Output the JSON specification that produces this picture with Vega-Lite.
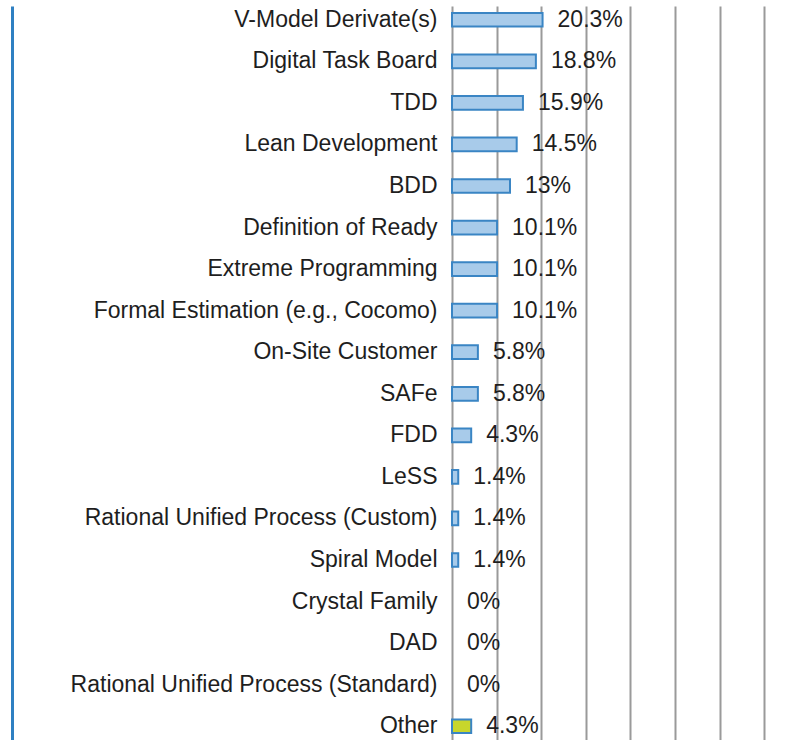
{
  "$schema": "https://vega.github.io/schema/vega-lite/v6.json",
  "width": 348,
  "height": 734,
  "padding": {"left": 12, "top": 6, "right": 0, "bottom": 0},
  "autosize": {"type": "pad"},
  "background": "white",
  "config": {
    "view": {"stroke": null},
    "font": "Liberation Sans",
    "text": {"font": "Liberation Sans"}
  },
  "data": {
    "values": [
      {"method": "V-Model Derivate(s)", "pct": 20.3, "label": "20.3%", "group": "method"},
      {"method": "Digital Task Board", "pct": 18.8, "label": "18.8%", "group": "method"},
      {"method": "TDD", "pct": 15.9, "label": "15.9%", "group": "method"},
      {"method": "Lean Development", "pct": 14.5, "label": "14.5%", "group": "method"},
      {"method": "BDD", "pct": 13, "label": "13%", "group": "method"},
      {"method": "Definition of Ready", "pct": 10.1, "label": "10.1%", "group": "method"},
      {"method": "Extreme Programming", "pct": 10.1, "label": "10.1%", "group": "method"},
      {"method": "Formal Estimation (e.g., Cocomo)", "pct": 10.1, "label": "10.1%", "group": "method"},
      {"method": "On-Site Customer", "pct": 5.8, "label": "5.8%", "group": "method"},
      {"method": "SAFe", "pct": 5.8, "label": "5.8%", "group": "method"},
      {"method": "FDD", "pct": 4.3, "label": "4.3%", "group": "method"},
      {"method": "LeSS", "pct": 1.4, "label": "1.4%", "group": "method"},
      {"method": "Rational Unified Process (Custom)", "pct": 1.4, "label": "1.4%", "group": "method"},
      {"method": "Spiral Model", "pct": 1.4, "label": "1.4%", "group": "method"},
      {"method": "Crystal Family", "pct": 0, "label": "0%", "group": "method"},
      {"method": "DAD", "pct": 0, "label": "0%", "group": "method"},
      {"method": "Rational Unified Process (Standard)", "pct": 0, "label": "0%", "group": "method"},
      {"method": "Other", "pct": 4.3, "label": "4.3%", "group": "other"}
    ]
  },
  "encoding": {
    "y": {
      "field": "method",
      "type": "nominal",
      "sort": null,
      "scale": {"paddingInner": 0.67, "paddingOuter": 0.166},
      "axis": {
        "title": null,
        "orient": "left",
        "offset": 440,
        "domain": true,
        "domainColor": "#2f80c2",
        "domainWidth": 3,
        "ticks": false,
        "tickSize": 0,
        "labelPadding": -425,
        "labelAlign": "right",
        "labelBaseline": "middle",
        "labelFont": "Liberation Sans",
        "labelFontSize": 23,
        "labelColor": "#1e1e1e",
        "labelLimit": 600,
        "grid": false
      }
    }
  },
  "layer": [
    {
      "mark": {"type": "bar", "strokeWidth": 2, "stroke": "#3a85c4"},
      "encoding": {
        "x": {
          "field": "pct",
          "type": "quantitative",
          "scale": {"domain": [0, 78], "nice": false},
          "axis": {
            "title": null,
            "labels": false,
            "ticks": false,
            "domain": false,
            "grid": true,
            "values": [0, 10, 20, 30, 40, 50, 60, 70],
            "gridColor": "#9a9a9a",
            "gridWidth": 2,
            "gridOpacity": 1
          }
        },
        "fill": {
          "field": "group",
          "type": "nominal",
          "scale": {"domain": ["method", "other"], "range": ["#a8cbea", "#c8d62b"]},
          "legend": null
        },
        "strokeOpacity": {"condition": {"test": "datum.pct === 0", "value": 0}, "value": 1}
      }
    },
    {
      "mark": {"type": "rule", "color": "#333333", "strokeWidth": 2},
      "encoding": {
        "x": {"datum": 0, "type": "quantitative"}
      }
    },
    {
      "mark": {"type": "text", "align": "left", "baseline": "middle", "dx": 15, "fontSize": 23, "font": "Liberation Sans", "color": "#1e1e1e"},
      "encoding": {
        "x": {"field": "pct", "type": "quantitative"},
        "text": {"field": "label", "type": "nominal"}
      }
    }
  ]
}
